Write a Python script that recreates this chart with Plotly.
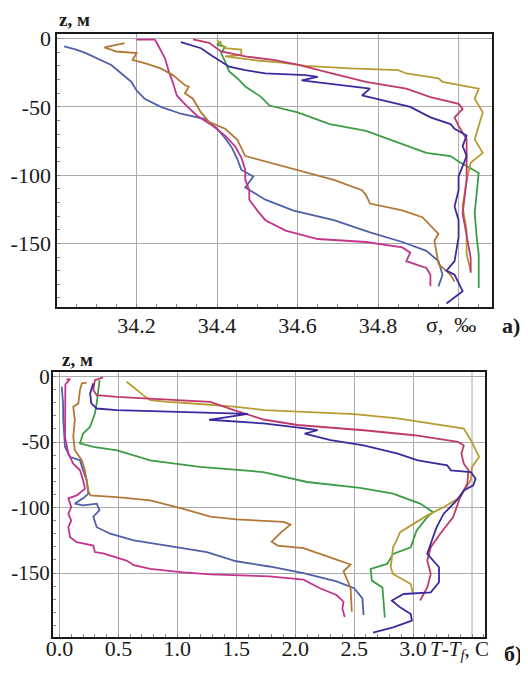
import plotly.graph_objects as go

# ---------------- Panel a: salinity profiles ----------------
s_blue = [34.02, 34.05, 34.074, 34.10, 34.137, 34.16, 34.187, 34.20, 34.22, 34.26, 34.31, 34.37, 34.40, 34.42,
          34.437, 34.45, 34.46, 34.49, 34.47, 34.52, 34.59, 34.69, 34.78, 34.86, 34.92, 34.95, 34.96, 34.95]
z_blue_a = [-5.6, -8, -10.6, -14, -19.3, -25, -31.7, -38, -44, -50, -55, -59, -66, -73,
            -80, -88, -96, -101, -109, -118, -126, -133, -142, -149, -155.5, -163, -173, -181.5]

s_magenta = [34.20, 34.245, 34.25, 34.26, 34.27, 34.275, 34.28, 34.29, 34.30, 34.32, 34.35, 34.39, 34.42, 34.445,
             34.46, 34.47, 34.47, 34.48, 34.48, 34.50, 34.52, 34.57, 34.65, 34.77, 34.86, 34.88, 34.87, 34.92,
             34.93, 34.93]
z_magenta_a = [-0.7, -0.7, -3, -8, -14, -19, -24, -32, -41.6, -48, -56.5, -64, -71, -79,
               -87, -96, -103.5, -111, -118, -126, -133, -140.6, -146.8, -149, -153, -156.8, -163, -168,
               -173, -181.5]

s_brown = [34.17, 34.12, 34.15, 34.20, 34.19, 34.22, 34.26, 34.29, 34.32, 34.33, 34.32, 34.34, 34.36, 34.38,
           34.42, 34.45, 34.47, 34.52, 34.59, 34.69, 34.76, 34.77, 34.78, 34.86, 34.91, 34.93, 34.95, 34.94,
           34.945, 34.95, 34.98, 34.99]
z_brown_a = [-3.2, -6.4, -9.4, -10.6, -15.6, -18, -21.8, -26.7, -34, -35.4, -40, -44, -54, -61,
             -66, -74, -86, -90, -96, -103.5, -111, -114.6, -120.8, -125.8, -130.8, -137, -143, -148,
             -158, -165, -173, -178]

s_indigo = [34.31, 34.36, 34.39, 34.43, 34.47, 34.52, 34.62, 34.65, 34.61, 34.68, 34.78, 34.76, 34.81, 34.88,
            34.93, 34.98, 34.99, 35.02, 35.01, 35.02, 35.00, 35.00, 34.99, 35.00, 35.00, 34.99, 34.97, 34.99,
            35.01, 34.97]
z_indigo_a = [-2.5, -7, -13, -20.5, -23, -25.5, -26.7, -28, -30.5, -33, -36.6, -41.6, -45, -50,
              -57.7, -62.6, -66, -71, -78.7, -86, -101, -111, -123, -133, -145.6, -163, -170, -173,
              -185, -194]

s_crimson = [34.34, 34.38, 34.41, 34.47, 34.54, 34.60, 34.68, 34.77, 34.87, 34.93, 35.00, 35.01, 34.99, 35.00,
             35.02, 35.02, 35.02, 35.02, 35.01, 35.02, 35.03, 35.03]
z_crimson_a = [-0.5, -3, -9.4, -13, -15.6, -19, -25, -31.6, -36.6, -42.8, -47.8, -51.5, -57.7, -63.9,
               -73.8, -86, -91, -103.5, -128, -143, -160.5, -171.6]

s_gold = [34.40, 34.42, 34.46, 34.46, 34.42, 34.50, 34.56, 34.62, 34.73, 34.85, 34.87, 34.95, 34.96, 35.05,
          35.04, 35.06, 35.05, 35.04, 35.06, 35.03, 35.02, 35.01, 35.02, 35.02, 35.03]
z_gold_a = [-1, -7, -8, -12, -13, -16, -17.5, -20, -21.8, -23, -25.5, -29, -31.6, -36.6,
            -44, -54, -64, -73.8, -83.7, -91, -103.5, -123, -140.6, -158, -170]

s_green = [34.41, 34.40, 34.42, 34.41, 34.42, 34.43, 34.45, 34.47, 34.51, 34.53, 34.60, 34.68, 34.77, 34.85,
           34.92, 34.98, 35.00, 35.05, 35.045, 35.04, 35.045, 35.05, 35.05, 35.05]
z_green_a = [-2, -4.5, -6, -10.6, -16.8, -24, -29, -35, -42.8, -49, -54, -62.6, -67.6, -76,
             -83.7, -86, -90, -98.5, -111, -128, -145.6, -158, -170, -182.7]

# ---------------- Panel б: T - Tf profiles ----------------
t_magenta = [0.06, 0.09, 0.05, 0.047, 0.05, 0.047, 0.075, 0.117, 0.174, 0.20, 0.216, 0.146, 0.075, 0.10,
             0.075, 0.10, 0.075, 0.09, 0.146, 0.287, 0.30, 0.37, 0.57, 0.63, 0.77, 1.05, 1.28, 1.78,
             2.07, 2.21, 2.35, 2.41, 2.40, 2.42]
z_magenta_b = [-2.1, -2, -6, -20, -35, -46, -58.8, -66.5, -71.6, -79, -85.6, -90.7, -93, -99.7,
               -104.7, -110, -115, -122.7, -126.5, -129, -134, -135, -140.5, -144, -146.9, -149.5, -151, -152.5,
               -155, -161.6, -166.8, -171.9, -177, -183.5]

t_blue = [0.019, 0.03, 0.032, 0.047, 0.09, 0.174, 0.20, 0.23, 0.245, 0.20, 0.13, 0.20, 0.316, 0.34,
          0.287, 0.316, 0.43, 0.63, 0.91, 1.25, 1.50, 1.78, 2.07, 2.35, 2.50, 2.57, 2.58]
z_blue_b = [-7.8, -20, -33, -53.7, -61.4, -63.9, -71.6, -79, -89.4, -93, -97, -98.4, -97, -102,
            -107, -115, -120, -125, -129, -134, -141, -145, -150, -156.4, -161.6, -169.3, -182]

t_brown = [0.23, 0.19, 0.174, 0.16, 0.117, 0.13, 0.117, 0.13, 0.19, 0.216, 0.23, 0.245, 0.26, 0.486,
           0.77, 1.05, 1.28, 1.50, 1.90, 1.96, 1.88, 1.80, 1.85, 2.07, 2.35, 2.47, 2.41, 2.47, 2.48]
z_brown_b = [-4.7, -5.2, -10.3, -20.5, -23, -33, -46, -56, -64, -71.6, -79, -87, -90.7, -92,
             -94.6, -101, -107, -109, -111, -113, -119, -126, -129, -131, -139.7, -143.5, -148.7, -161.6, -179.6]

t_green = [0.34, 0.33, 0.316, 0.30, 0.26, 0.20, 0.174, 0.287, 0.49, 0.77, 1.19, 1.73, 2.10, 2.55,
           2.83, 3.06, 3.17, 3.12, 3.03, 2.98, 2.83, 2.78, 2.64, 2.65, 2.74, 2.76]
z_green_b = [-2.7, -10.3, -20.5, -28.2, -38.4, -43.5, -51.1, -53.7, -56.3, -64, -69, -72.9, -80.5, -85,
             -89.4, -97, -103.5, -107.3, -117.5, -130.3, -135.4, -143, -146.9, -155.8, -161, -184]

t_gold = [0.57, 0.655, 0.71, 0.77, 0.91, 1.05, 1.48, 1.74, 2.50, 2.87, 3.43, 3.49, 3.56, 3.50,
          3.49, 3.40, 3.26, 3.12, 2.98, 2.89, 2.86, 2.83, 2.81, 2.83, 2.98, 3.00]
z_gold_b = [-4, -10.3, -14.2, -18, -19.3, -20, -23, -25.6, -28.7, -32, -39.7, -48.6, -61.4, -69,
            -79, -92, -99.7, -106, -113.7, -118.8, -125, -130.3, -145.6, -150.7, -158.4, -166]

t_indigo = [0.287, 0.26, 0.27, 0.316, 0.486, 1.05, 1.48, 1.60, 1.27, 1.73, 2.10, 2.19, 2.08, 2.30,
            2.58, 2.87, 3.04, 3.29, 3.32, 3.49, 3.53, 3.51, 3.43, 3.37, 3.26, 3.20, 3.16, 3.12,
            3.22, 3.22, 3.15, 2.92, 2.82, 2.89, 2.98, 2.99, 2.83, 2.66]
z_indigo_b = [-5.2, -12.9, -20.5, -24.4, -25.6, -27, -28.2, -28.5, -33, -35.8, -39.7, -41, -43.5, -48.6,
              -52.5, -58.8, -64, -67.8, -71.6, -72.9, -78, -83, -86.9, -94.6, -104.7, -115, -125, -135.4,
              -145.6, -157, -164.8, -166, -171, -176.2, -181.3, -186.4, -191.5, -195.4]

t_crimson = [0.37, 0.30, 0.287, 0.316, 0.486, 0.77, 1.05, 1.28, 1.48, 1.73, 2.02, 2.58, 3.01, 3.38,
             3.43, 3.41, 3.43, 3.47, 3.46, 3.40, 3.34, 3.23, 3.15, 3.12, 3.15, 3.12, 3.06]
z_crimson_b = [-0.6, -2.7, -10.3, -14.2, -15.5, -16.8, -18, -19.3, -25.6, -32.8, -37, -41, -44.8, -49.9,
               -52.5, -58.8, -66.5, -71.6, -81.8, -92, -107.3, -120, -130.3, -140.5, -150.7, -161, -171]

# tick labels
sal_ticks = [34.2, 34.4, 34.6, 34.8]
sal_ticktext = ["34.2", "34.4", "34.6", "34.8"]
sal_extra_grid = [35.0]
temp_ticks = [0.0, 0.5, 1.0, 1.5, 2.0, 2.5, 3.0]
temp_ticktext = ["0.0", "0.5", "1.0", "1.5", "2.0", "2.5", "3.0"]
temp_extra_grid = [3.5]
z_ticks = [0, -50, -100, -150]
z_ticktext = ["0", "-50", "-100", "-150"]

COL = {
    "blue": "#5060a8",
    "magenta": "#c2348e",
    "brown": "#b27838",
    "indigo": "#3b2a9e",
    "crimson": "#bf3a6c",
    "gold": "#b89b32",
    "green": "#3e9c46",
}

fig = go.Figure()

top = [(s_blue, z_blue_a, "blue"), (s_magenta, z_magenta_a, "magenta"), (s_brown, z_brown_a, "brown"),
       (s_green, z_green_a, "green"), (s_gold, z_gold_a, "gold"), (s_crimson, z_crimson_a, "crimson"),
       (s_indigo, z_indigo_a, "indigo")]
for xs, zs, c in top:
    fig.add_trace(go.Scatter(x=xs, y=zs, mode="lines", line=dict(color=COL[c], width=1.8),
                             xaxis="x", yaxis="y", showlegend=False, hoverinfo="skip"))

bot = [(t_blue, z_blue_b, "blue"), (t_magenta, z_magenta_b, "magenta"), (t_brown, z_brown_b, "brown"),
       (t_green, z_green_b, "green"), (t_gold, z_gold_b, "gold"), (t_crimson, z_crimson_b, "crimson"),
       (t_indigo, z_indigo_b, "indigo")]
for xs, zs, c in bot:
    fig.add_trace(go.Scatter(x=xs, y=zs, mode="lines", line=dict(color=COL[c], width=1.8),
                             xaxis="x2", yaxis="y2", showlegend=False, hoverinfo="skip"))

# page body has an 8px margin: figure is 520x667 drawn at (8, 8) in the 528x675 window
OFF = 8
W, H = 528 - OFF, 675 - OFF


def fx(px):
    return (px - OFF) / W


def fy(py):
    return 1 - (py - OFF) / H


serif = "Liberation Serif, Times New Roman, serif"
tickfont = dict(family=serif, size=22, color="#1a1a1a")
GRID = "#ababab"
common = dict(showline=True, linecolor="#1a1a1a", linewidth=2, mirror=True, showgrid=True,
              gridcolor=GRID, gridwidth=1, zeroline=False, ticks="",
              automargin=False)

fig.update_layout(
    template="none",
    width=W, height=H, autosize=False,
    margin=dict(l=0, r=0, t=0, b=0, pad=0),
    paper_bgcolor="white", plot_bgcolor="white",
    xaxis=dict(domain=[fx(57.3), fx(492)], range=[34.003, 35.083], tickvals=sal_ticks, ticktext=sal_ticktext,
               anchor="y", ticklabelstandoff=-2, tickfont=tickfont,
               minor=dict(ticks="inside", ticklen=3, dtick=0.05, tickcolor="#888", showgrid=False), **common),
    yaxis=dict(domain=[fy(306.7), fy(34.3)], range=[-196.4, 3.2], tickvals=z_ticks, ticktext=z_ticktext,
               anchor="x", tickfont=tickfont,
               minor=dict(ticks="inside", ticklen=3, dtick=10, tickcolor="#888", showgrid=False), **common),
    xaxis2=dict(domain=[fx(53), fx(485)], range=[-0.055, 3.61], tickvals=temp_ticks, ticktext=temp_ticktext,
                anchor="y2", ticklabelstandoff=-9, tickfont=tickfont,
                minor=dict(ticks="inside", ticklen=3, dtick=0.1, tickcolor="#888", showgrid=False), **common),
    yaxis2=dict(domain=[fy(636.7), fy(371.7)], range=[-198.6, 3.7], tickvals=z_ticks, ticktext=z_ticktext,
                anchor="x2", ticklabelstandoff=-3, tickfont=dict(tickfont, size=21),
                minor=dict(ticks="inside", ticklen=3, dtick=10, tickcolor="#888", showgrid=False), **common),
)

# extra gridlines at the positions where the axis titles replace the tick labels
for v in sal_extra_grid:
    fig.add_shape(type="line", xref="x", yref="y domain", x0=v, x1=v, y0=0, y1=1,
                  line=dict(color=GRID, width=1), layer="below")
for v in temp_extra_grid:
    fig.add_shape(type="line", xref="x2", yref="y2 domain", x0=v, x1=v, y0=0, y1=1,
                  line=dict(color=GRID, width=1), layer="below")

ann = [
    dict(text="<b>z, м</b>", x=fx(57), y=fy(19), xanchor="left", yanchor="middle", font=dict(size=19)),
    dict(text="σ,  ‰", x=fx(451), y=fy(325), xanchor="center", yanchor="middle", font=dict(size=22)),
    dict(text="<b>а)</b>", x=fx(511), y=fy(326), xanchor="center", yanchor="middle", font=dict(size=22)),
    dict(text="<b>z, м</b>", x=fx(60), y=fy(359), xanchor="left", yanchor="middle", font=dict(size=19)),
    dict(text="<i>T</i>-<i>T<sub>f</sub></i>, C", x=fx(428), y=fy(650), xanchor="left", yanchor="middle",
         font=dict(size=21)),
    dict(text="<b>б)</b>", x=fx(513), y=fy(653), xanchor="center", yanchor="middle", font=dict(size=22)),
]
for a in ann:
    a["font"].update(family=serif, color="#1a1a1a")
    fig.add_annotation(xref="paper", yref="paper", showarrow=False, **a)

fig.write_html("out.html", config={"displayModeBar": False})
